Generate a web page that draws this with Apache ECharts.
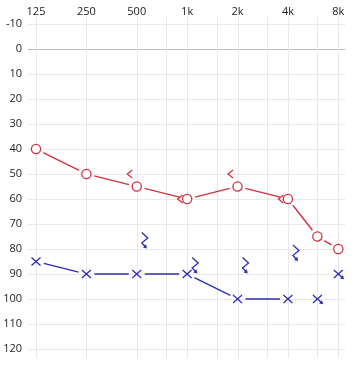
<!DOCTYPE html>
<html><head><meta charset="utf-8">
<script src="https://cdn.jsdelivr.net/npm/echarts@6/dist/echarts.min.js"></script>
<style>html,body{margin:0;padding:0;background:#fff}#c{width:356px;height:368px}</style>
</head><body><div id="c"></div>
<script>
const freqLabels = ['125','250','500','1k','2k','4k','8k'];
const gridFreqs = [125,250,500,750,1000,1500,2000,3000,4000,6000,8000];
const dbTicks = [-10,0,10,20,30,40,50,60,70,80,90,100,110,120];
const rightAirFreqs = [125,250,500,1000,2000,4000,6000,8000];
const rightAirDb = [40,50,55,60,55,60,75,80];
const rightBoneFreqs = [500,1000,2000,4000];
const rightBoneDb = [50,60,50,60];
const leftAirFreqs = [125,250,500,1000,2000,4000];
const leftAirDb = [85,90,90,90,100,100];
const leftAirNRFreqs = [6000,8000];
const leftAirNRDb = [100,90];
const leftBoneNRFreqs = [500,1000,2000,4000];
const leftBoneNRDb = [75,85,85,80];

const RED = '#cf3341', BLUE = '#2d2db3';
const oct = f => Math.log2(f / 125);
const pts = (fs, ds) => fs.map((f, i) => [oct(f), ds[i]]);
const segs = p => p.slice(1).map((q, i) => [p[i][0], p[i][1], q[0], q[1]]);

function arrowHead(p, q, color) {
  const dx = q[0] - p[0], dy = q[1] - p[1], L = Math.hypot(dx, dy);
  const ux = dx / L, uy = dy / L, len = 3.6, hw = 2.2;
  const bx = q[0] - ux * len, by = q[1] - uy * len;
  return {type: 'polygon', shape: {points: [[q[0], q[1]], [bx - uy * hw, by + ux * hw], [bx + uy * hw, by - ux * hw]]},
    style: {fill: color}};
}
function segRender(color) {
  return function (params, api) {
    const a = api.coord([api.value(0), api.value(1)]);
    const b = api.coord([api.value(2), api.value(3)]);
    const dx = b[0] - a[0], dy = b[1] - a[1], L = Math.hypot(dx, dy), g = 8;
    const ux = dx / L, uy = dy / L;
    return {type: 'line', shape: {x1: a[0] + ux * g, y1: a[1] + uy * g, x2: b[0] - ux * g, y2: b[1] - uy * g},
      style: {stroke: color, lineWidth: 1.4}};
  };
}
function hGrid(params, api) {
  const cs = params.coordSys;
  const v = api.value(1);
  const y = Math.round(api.coord([0, v])[1]) + 0.5;
  return {type: 'line', shape: {x1: cs.x - 8, y1: y, x2: cs.x + cs.width + 7, y2: y},
    style: {stroke: v === 0 ? '#b9b9b9' : '#e9e9e9', lineWidth: 1}};
}
function vGrid(params, api) {
  const cs = params.coordSys;
  const x = Math.round(api.coord([api.value(0), 0])[0]) + 0.5;
  return {type: 'line', shape: {x1: x, y1: cs.y - 7, x2: x, y2: cs.y + cs.height + 9},
    style: {stroke: '#e9e9e9', lineWidth: 1}};
}
function circleR(params, api) {
  const c = api.coord([api.value(0), api.value(1)]);
  return {type: 'circle', shape: {cx: c[0], cy: c[1], r: 4.6}, style: {fill: '#fff', stroke: RED, lineWidth: 1.3}};
}
function boneR(params, api) {
  const c = api.coord([api.value(0), api.value(1)]);
  return {type: 'polyline', shape: {points: [[c[0] - 4.5, c[1] - 4], [c[0] - 9.5, c[1]], [c[0] - 4.5, c[1] + 4]]},
    style: {stroke: RED, lineWidth: 1.3, fill: null}};
}
function crossL(params, api) {
  const c = api.coord([api.value(0), api.value(1)]);
  return {type: 'group', children: [
    {type: 'line', shape: {x1: c[0] - 4.5, y1: c[1] - 4, x2: c[0] + 4.5, y2: c[1] + 4}, style: {stroke: BLUE, lineWidth: 1.3}},
    {type: 'line', shape: {x1: c[0] - 4.5, y1: c[1] + 4, x2: c[0] + 4.5, y2: c[1] - 4}, style: {stroke: BLUE, lineWidth: 1.3}}
  ]};
}
function crossNR(params, api) {
  const c = api.coord([api.value(0), api.value(1)]);
  return {type: 'group', children: [
    {type: 'line', shape: {x1: c[0] - 4.5, y1: c[1] - 4, x2: c[0] + 4, y2: c[1] + 3.6}, style: {stroke: BLUE, lineWidth: 1.3}},
    {type: 'line', shape: {x1: c[0] - 4.5, y1: c[1] + 4, x2: c[0] + 4.5, y2: c[1] - 4}, style: {stroke: BLUE, lineWidth: 1.3}},
    arrowHead([c[0], c[1]], [c[0] + 5.8, c[1] + 5.2], BLUE)
  ]};
}
function boneNR(params, api) {
  const c = api.coord([api.value(0), api.value(1)]);
  const p = [[c[0] + 5, c[1] - 4], [c[0] + 11, c[1] + 1.5], [c[0] + 5, c[1] + 6.5], [c[0] + 8.5, c[1] + 10]];
  return {type: 'group', children: [
    {type: 'polyline', shape: {points: p}, style: {stroke: BLUE, lineWidth: 1.3, fill: null}},
    arrowHead(p[2], [c[0] + 10.2, c[1] + 12], BLUE)
  ]};
}

const chart = echarts.init(document.getElementById('c'), null, {renderer: 'canvas'});
const axisFont = {fontFamily: 'Open Sans', fontSize: 11, color: '#222'};
chart.setOption({
  animation: false,
  backgroundColor: '#fff',
  grid: {left: 36, right: 17.7, top: 24, bottom: 19},
  xAxis: {
    type: 'value', position: 'top', min: 0, max: 6, interval: 1,
    axisLine: {show: false}, axisTick: {show: false}, splitLine: {show: false},
    axisLabel: Object.assign({margin: 7, formatter: v => freqLabels[Math.round(v)] || ''}, axisFont)
  },
  yAxis: {
    type: 'value', inverse: true, min: -10, max: 120, interval: 10,
    axisLine: {show: false}, axisTick: {show: false}, splitLine: {show: false},
    axisLabel: Object.assign({margin: 14}, axisFont)
  },
  series: [
    {type: 'custom', z: 1, renderItem: hGrid, data: dbTicks.map(d => [0, d]), silent: true},
    {type: 'custom', z: 1, renderItem: vGrid, data: gridFreqs.map(f => [oct(f), 0]), silent: true},
    {type: 'custom', z: 2, renderItem: segRender(RED), encode: {x: [0, 2], y: [1, 3]}, data: segs(pts(rightAirFreqs, rightAirDb))},
    {type: 'custom', z: 2, renderItem: segRender(BLUE), encode: {x: [0, 2], y: [1, 3]}, data: segs(pts(leftAirFreqs, leftAirDb))},
    {type: 'custom', z: 3, renderItem: boneR, data: pts(rightBoneFreqs, rightBoneDb)},
    {type: 'custom', z: 4, renderItem: circleR, data: pts(rightAirFreqs, rightAirDb)},
    {type: 'custom', z: 4, renderItem: crossL, data: pts(leftAirFreqs, leftAirDb)},
    {type: 'custom', z: 4, renderItem: crossNR, data: pts(leftAirNRFreqs, leftAirNRDb)},
    {type: 'custom', z: 4, renderItem: boneNR, data: pts(leftBoneNRFreqs, leftBoneNRDb)}
  ]
});
</script></body></html>
